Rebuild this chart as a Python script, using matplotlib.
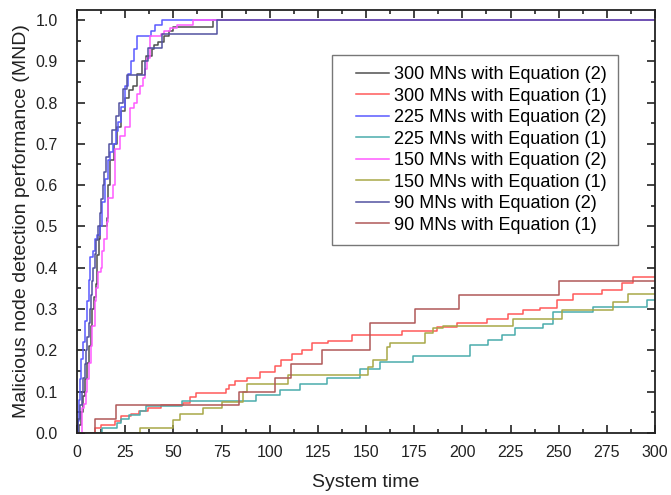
import matplotlib
matplotlib.use("Agg")
import matplotlib.pyplot as plt
from matplotlib.ticker import MultipleLocator
from matplotlib.legend_handler import HandlerLine2D

plt.rcParams['font.family'] = ['Liberation Sans', 'DejaVu Sans']

# 300 MNs with Equation (2)
t_300_eq2 = [0, 1, 2, 3, 4, 5, 6, 7, 8, 9, 10, 10.5, 11.5, 12, 15.5, 16, 17, 19, 21, 23, 25, 27,
             29, 31, 33.5, 36, 38.7, 40, 42, 45, 47.5, 50, 70.5, 300]
v_300_eq2 = [0, 0.02, 0.05, 0.09, 0.13, 0.17, 0.21, 0.26, 0.30, 0.33, 0.36, 0.43, 0.47, 0.50, 0.52,
             0.60, 0.66, 0.70, 0.74, 0.78, 0.81, 0.83, 0.84, 0.87, 0.90, 0.913, 0.93, 0.94, 0.947,
             0.96, 0.973, 0.983, 1.0, 1.0]

# 300 MNs with Equation (1)
t_300_eq1 = [0, 9.3, 12.5, 19.7, 23, 28, 32, 37, 43.6, 55, 58.5, 62, 77.5, 79, 82, 88, 95, 102.8,
             106, 111.4, 116.6, 121.8, 130.4, 142.6, 168.5, 186.7, 197, 212.6, 223.9, 231.6,
             240.3, 249, 257.6, 272.3, 282.7, 288.7, 300]
v_300_eq1 = [0, 0.013, 0.02, 0.03, 0.04, 0.047, 0.053, 0.06, 0.067, 0.073, 0.087, 0.097, 0.107,
             0.117, 0.127, 0.133, 0.147, 0.163, 0.177, 0.19, 0.2, 0.217, 0.223, 0.237, 0.247,
             0.257, 0.267, 0.277, 0.287, 0.297, 0.303, 0.323, 0.337, 0.347, 0.363, 0.377, 0.377]

# 225 MNs with Equation (2)
t_225_eq2 = [0, 0.5, 1, 1.5, 2, 3, 4, 5, 6, 6.7, 8.5, 9.5, 10.5, 12, 13, 14.5, 16, 17, 18.5, 20,
             21.5, 23, 25, 26.6, 28, 29.5, 31, 38.5, 40.5, 44, 300]
v_225_eq2 = [0, 0.03, 0.08, 0.13, 0.18, 0.22, 0.27, 0.32, 0.37, 0.427, 0.44, 0.47, 0.48, 0.50,
             0.56, 0.615, 0.66, 0.68, 0.70, 0.73, 0.752, 0.79, 0.84, 0.869, 0.90, 0.93, 0.96,
             0.973, 0.987, 1.0, 1.0]

# 225 MNs with Equation (1)
t_225_eq1 = [0, 12.8, 20.6, 23, 27, 32.5, 36, 54.3, 93, 105.4, 115.7, 129.6, 146.9, 157.3, 174.5,
             204, 213.5, 220.4, 227.3, 242, 247.2, 268, 295.7, 300]
v_225_eq1 = [0, 0.012, 0.024, 0.035, 0.043, 0.054, 0.065, 0.078, 0.092, 0.105, 0.118, 0.132,
             0.156, 0.172, 0.186, 0.212, 0.225, 0.237, 0.253, 0.265, 0.293, 0.304, 0.321, 0.321]

# 150 MNs with Equation (2)
t_150_eq2 = [0, 2.4, 3.8, 4.5, 5, 6, 7, 8, 9.3, 10, 11, 12.5, 13, 14, 15.4, 16.2, 18.9, 19.7,
             22.3, 25, 27.5, 29.5, 31, 32.5, 34, 35.5, 36.5, 37.9, 43.5, 45, 48, 52, 60, 300]
v_150_eq2 = [0, 0.06, 0.07, 0.10, 0.13, 0.17, 0.21, 0.26, 0.32, 0.35, 0.39, 0.40, 0.44, 0.47,
             0.51, 0.57, 0.60, 0.687, 0.72, 0.74, 0.787, 0.80, 0.82, 0.84, 0.86, 0.88, 0.907,
             0.96, 0.967, 0.973, 0.98, 0.987, 1.0, 1.0]

# 150 MNs with Equation (1)
t_150_eq1 = [0, 32.7, 50, 53.5, 65.5, 75, 86.3, 88, 109.7, 151.2, 153.8, 160.7, 162.4, 180.6,
             184.9, 190.1, 226.4, 251.5, 278.3, 286.1, 300]
v_150_eq1 = [0, 0.013, 0.031, 0.047, 0.06, 0.076, 0.1, 0.118, 0.14, 0.16, 0.176, 0.207, 0.218,
             0.241, 0.253, 0.258, 0.277, 0.297, 0.317, 0.337, 0.337]

# 90 MNs with Equation (2)
t_90_eq2 = [0, 0.5, 1.5, 2.5, 3, 4, 4.5, 5, 6, 6.5, 7, 8, 8.5, 9.5, 10, 11, 12, 12.5, 13.5, 14,
            15, 16.5, 18, 20, 22, 24, 26, 35.3, 37, 44, 72.5, 300]
v_90_eq2 = [0, 0.033, 0.067, 0.1, 0.133, 0.167, 0.2, 0.233, 0.267, 0.3, 0.333, 0.367, 0.4,
            0.433, 0.467, 0.5, 0.533, 0.567, 0.6, 0.633, 0.667, 0.7, 0.733, 0.767, 0.8, 0.833,
            0.867, 0.9, 0.933, 0.967, 1.0, 1.0]

# 90 MNs with Equation (1)
t_90_eq1 = [0, 9.5, 20, 84, 103, 111, 127, 152, 175.5, 198, 250, 300]
v_90_eq1 = [0, 0.033, 0.067, 0.1, 0.133, 0.167, 0.2, 0.267, 0.3, 0.333, 0.367, 0.367]

series = [
    (t_300_eq2, v_300_eq2, '#505050', '300 MNs with Equation (2)'),
    (t_300_eq1, v_300_eq1, '#ff5a5a', '300 MNs with Equation (1)'),
    (t_225_eq2, v_225_eq2, '#5a5aff', '225 MNs with Equation (2)'),
    (t_225_eq1, v_225_eq1, '#4aacac', '225 MNs with Equation (1)'),
    (t_150_eq2, v_150_eq2, '#ff5aff', '150 MNs with Equation (2)'),
    (t_150_eq1, v_150_eq1, '#a8a848', '150 MNs with Equation (1)'),
    (t_90_eq2, v_90_eq2, '#5252a0', '90 MNs with Equation (2)'),
    (t_90_eq1, v_90_eq1, '#b05858', '90 MNs with Equation (1)'),
]


class InsetLineHandler(HandlerLine2D):
    """Legend line sample that leaves a blank gap on its left side."""

    def __init__(self, inset_frac=0.27, **kw):
        super().__init__(**kw)
        self.inset_frac = inset_frac

    def create_artists(self, legend, orig_handle, xdescent, ydescent, width, height,
                       fontsize, trans):
        artists = super().create_artists(legend, orig_handle, xdescent, ydescent, width,
                                         height, fontsize, trans)
        for a in artists:
            xd = list(a.get_xdata())
            if len(xd) >= 2:
                x0, x1 = min(xd), max(xd)
                start = x0 + self.inset_frac * (x1 - x0)
                a.set_xdata([start if x == x0 else x for x in xd])
        return artists


fig = plt.figure(figsize=(6.71, 4.95), dpi=100)
ax = fig.add_axes([0.1148, 0.1253, 0.8614, 0.8545])

lines = []
for t, v, c, lab in series:
    ln, = ax.plot(t, v, drawstyle='steps-post', color=c, lw=1.1, label=lab)
    lines.append(ln)

ax.set_xlim(0, 300)
ax.set_ylim(0, 1.024)
ax.xaxis.set_major_locator(MultipleLocator(25))
ax.xaxis.set_minor_locator(MultipleLocator(12.5))
ax.yaxis.set_major_locator(MultipleLocator(0.1))
ax.yaxis.set_minor_locator(MultipleLocator(0.05))
ax.yaxis.set_major_formatter(plt.FuncFormatter(lambda y, _: f"{y:.1f}"))
ax.tick_params(which='both', direction='in', top=True, right=True, labelsize=11.5, width=1.2,
               colors='#222222', labelcolor='#222222')
ax.tick_params(which='major', length=5.5)
ax.tick_params(which='minor', length=3)
ax.tick_params(axis='x', pad=9)
ax.tick_params(axis='y', pad=14)
for s in ax.spines.values():
    s.set_linewidth(1.3)
    s.set_color('#222222')

ax.set_xlabel('System time', fontsize=14, color='#222222', labelpad=10)
ax.set_ylabel('Malicious node detection performance (MND)', fontsize=14, color='#222222',
              labelpad=4)

leg = ax.legend(handles=lines, loc='upper right', bbox_to_anchor=(0.936, 0.8936),
                borderaxespad=0, fontsize=13, frameon=True, fancybox=False,
                edgecolor='#555555', handlelength=2.5, labelspacing=0.25, borderpad=0.62,
                handletextpad=0.3,
                handler_map={ln: InsetLineHandler() for ln in lines})
leg.get_frame().set_linewidth(1.0)

fig.savefig('out.png', dpi=100)
